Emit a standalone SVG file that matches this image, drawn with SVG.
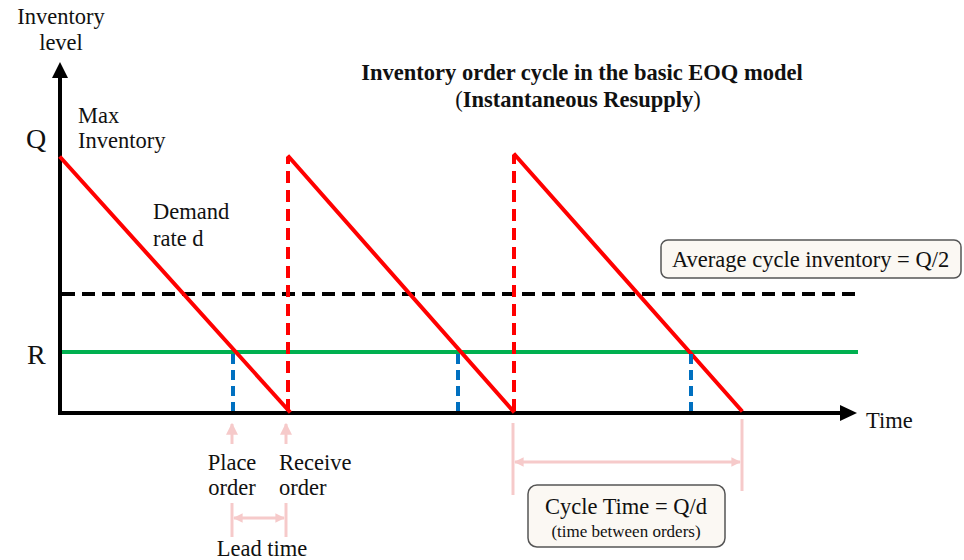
<svg xmlns="http://www.w3.org/2000/svg" width="964" height="560" viewBox="0 0 964 560">
  <defs>
    <marker id="pinkHead" viewBox="0 0 10 10" refX="9" refY="5" markerWidth="3.2" markerHeight="3.2" orient="auto-start-reverse">
      <path d="M0,0 L10,5 L0,10 z" fill="#F6CACA"/>
    </marker>
    <marker id="pinkHeadSm" viewBox="0 0 10 10" refX="9" refY="5" markerWidth="4" markerHeight="4" orient="auto-start-reverse">
      <path d="M0,0 L10,5 L0,10 z" fill="#F6CACA"/>
    </marker>
  </defs>
  <style>
    text { font-family: "Liberation Serif", "DejaVu Serif", serif; fill: #111; }
    .lbl { font-size: 22.5px; }
    .axisLetter { font-size: 28px; }
    .title { font-size: 22.5px; font-weight: bold; }
    .axis { stroke: #000; stroke-width: 4; fill: none; }
    .demand { stroke: #FF0000; stroke-width: 4; fill: none; stroke-linecap: square; }
    .resupply { stroke: #FF0000; stroke-width: 4; stroke-dasharray: 12 7; fill: none; }
    .reorder { stroke: #00B050; stroke-width: 4; fill: none; }
    .average { stroke: #000; stroke-width: 4; stroke-dasharray: 13 7; fill: none; }
    .leadmark { stroke: #0070C0; stroke-width: 4; stroke-dasharray: 10 6; fill: none; }
    .dim { stroke: #F6CACA; stroke-width: 3; fill: none; }
    .box { fill: #FBF8F3; stroke: #555; stroke-width: 1.5; }
  </style>

  <!-- axes -->
  <g id="axes">
    <line class="axis" x1="60" y1="414" x2="60" y2="76"/>
    <path d="M52,78 L60,62 L68,78 z" fill="#000"/>
    <line class="axis" x1="58" y1="413" x2="842" y2="413"/>
    <path d="M840,405 L857,413 L840,421 z" fill="#000"/>
    <text class="lbl" x="61" y="24" text-anchor="middle">Inventory</text>
    <text class="lbl" x="61" y="50" text-anchor="middle">level</text>
    <text class="lbl" x="866" y="428">Time</text>
    <text class="axisLetter" x="26" y="148">Q</text>
    <text class="axisLetter" x="27" y="364">R</text>
  </g>

  <!-- reference levels -->
  <g id="levels">
    <line class="average" x1="62" y1="294" x2="858" y2="294"/>
    <line class="reorder" x1="62" y1="352" x2="858" y2="352"/>
  </g>

  <!-- sawtooth inventory curve -->
  <g id="sawtooth">
    <line class="demand" x1="61" y1="158" x2="289" y2="411"/>
    <line class="resupply" x1="288" y1="411" x2="288" y2="157"/>
    <line class="demand" x1="289" y1="157" x2="513" y2="411"/>
    <line class="resupply" x1="514" y1="411" x2="514" y2="155"/>
    <line class="demand" x1="515" y1="155" x2="741" y2="410"/>
  </g>

  <!-- reorder points -->
  <g id="reorder-points">
    <line class="leadmark" x1="233" y1="354" x2="233" y2="411"/>
    <line class="leadmark" x1="458" y1="354" x2="458" y2="411"/>
    <line class="leadmark" x1="691" y1="354" x2="691" y2="411"/>
  </g>

  <!-- labels on the chart -->
  <g id="max-label">
    <text class="lbl" x="78" y="123">Max</text>
    <text class="lbl" x="78" y="148">Inventory</text>
  </g>
  <g id="demand-label">
    <text class="lbl" x="153" y="219">Demand</text>
    <text class="lbl" x="153" y="246">rate d</text>
  </g>

  <g id="title">
    <text class="title" x="582" y="80" text-anchor="middle">Inventory order cycle in the basic EOQ model</text>
    <text class="title" x="578" y="107" text-anchor="middle"><tspan font-weight="normal">(</tspan>Instantaneous Resupply<tspan font-weight="normal">)</tspan></text>
  </g>

  <g id="average-box">
    <rect class="box" x="661" y="240" width="300" height="38" rx="7"/>
    <text class="lbl" x="672" y="267">Average cycle inventory = Q/2</text>
  </g>

  <!-- order events and dimensions -->
  <g id="connectors">
    <line class="dim" x1="232" y1="444" x2="232" y2="424" marker-end="url(#pinkHeadSm)"/>
    <line class="dim" x1="286" y1="444" x2="286" y2="424" marker-end="url(#pinkHeadSm)"/>
    <line class="dim" x1="232" y1="503" x2="232" y2="537"/>
    <line class="dim" x1="286" y1="503" x2="286" y2="537"/>
    <line class="dim" x1="234" y1="518" x2="284" y2="518" stroke-width="2" marker-start="url(#pinkHead)" marker-end="url(#pinkHead)"/>
    <line class="dim" x1="513" y1="423" x2="513" y2="495"/>
    <line class="dim" x1="742" y1="419" x2="742" y2="491"/>
    <line class="dim" x1="515" y1="462" x2="740" y2="462" marker-start="url(#pinkHead)" marker-end="url(#pinkHead)"/>
  </g>

  <g id="place-order">
    <text class="lbl" x="232" y="470" text-anchor="middle">Place</text>
    <text class="lbl" x="232" y="495" text-anchor="middle">order</text>
  </g>
  <g id="receive-order">
    <text class="lbl" x="279" y="470">Receive</text>
    <text class="lbl" x="279" y="495">order</text>
  </g>
  <g id="lead-time">
    <text class="lbl" x="262" y="556" text-anchor="middle">Lead time</text>
  </g>

  <g id="cycle-box">
    <rect class="box" x="528" y="485" width="197" height="62" rx="9"/>
    <text class="lbl" x="626" y="514" text-anchor="middle">Cycle Time = Q/d</text>
    <text x="626" y="537" text-anchor="middle" font-size="17">(time between orders)</text>
  </g>
</svg>
